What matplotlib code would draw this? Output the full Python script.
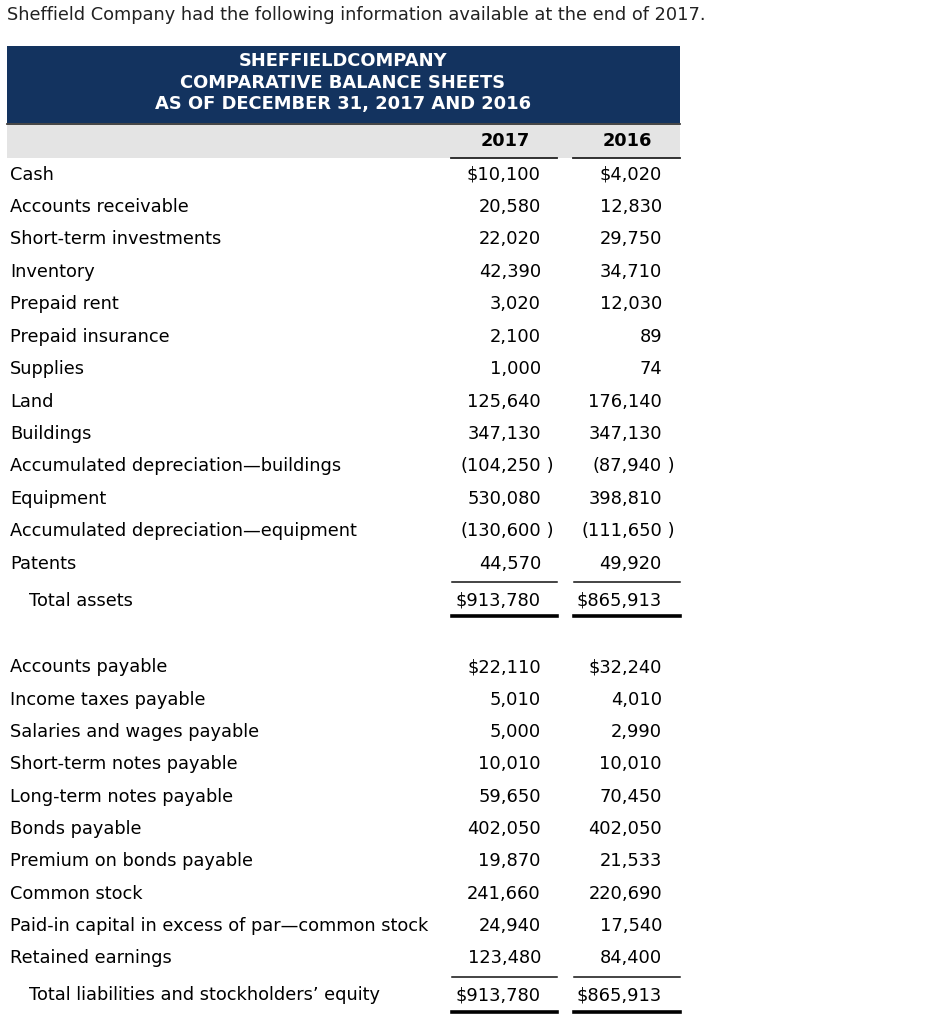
import matplotlib.pyplot as plt

# balance sheet data
asset_labels = ["Cash", "Accounts receivable", "Short-term investments", "Inventory",
                "Prepaid rent", "Prepaid insurance", "Supplies", "Land", "Buildings",
                "Accumulated depreciation\u2014buildings", "Equipment",
                "Accumulated depreciation\u2014equipment", "Patents"]
assets_2017 = [10100, 20580, 22020, 42390, 3020, 2100, 1000, 125640, 347130,
               -104250, 530080, -130600, 44570]
assets_2016 = [4020, 12830, 29750, 34710, 12030, 89, 74, 176140, 347130,
               -87940, 398810, -111650, 49920]
total_assets = [913780, 865913]

liab_labels = ["Accounts payable", "Income taxes payable", "Salaries and wages payable",
               "Short-term notes payable", "Long-term notes payable", "Bonds payable",
               "Premium on bonds payable", "Common stock",
               "Paid-in capital in excess of par\u2014common stock", "Retained earnings"]
liab_2017 = [22110, 5010, 5000, 10010, 59650, 402050, 19870, 241660, 24940, 123480]
liab_2016 = [32240, 4010, 2990, 10010, 70450, 402050, 21533, 220690, 17540, 84400]
total_liab = [913780, 865913]

years = ["2017", "2016"]
header_lines = ["SHEFFIELDCOMPANY", "COMPARATIVE BALANCE SHEETS",
                "AS OF DECEMBER 31, 2017 AND 2016"]
intro = "Sheffield Company had the following information available at the end of 2017."

W, H = 950, 1024
fig = plt.figure(figsize=(W / 100, H / 100), dpi=100)
ax = fig.add_axes([0, 0, 1, 1])
ax.set_xlim(0, W)
ax.set_ylim(H, 0)
ax.axis("off")

FS = 12.8
NFS = 12.9
col_right = [541, 662]
line_spans = [(452, 557), (574, 680)]

ax.text(7, 14.5, intro, fontsize=12.8, va="center", ha="left", color="#222222")

# navy header
ax.add_patch(plt.Rectangle((7, 46), 673, 77, color="#13335F", lw=0))
for i, s in enumerate(header_lines):
    ax.text(343, 61.5 + i * 21.5, s, color="white", fontweight="bold", fontsize=12.9,
            ha="center", va="center")
ax.plot([7, 680], [124, 124], color="#222222", lw=1.2)
ax.add_patch(plt.Rectangle((7, 125), 673, 33, color="#E4E4E4", lw=0))
for i, y in enumerate(years):
    cx = [505, 627][i]
    ax.text(cx, 140.5, y, fontweight="bold", fontsize=12.8, ha="center", va="center")
    ax.plot([line_spans[i][0] - 1, line_spans[i][1]], [158, 158], color="#222222", lw=1.3)


def fmt(v, dollar):
    s = f"{abs(v):,}"
    if dollar:
        s = "$" + s
    if v < 0:
        s = "(" + s
    return s


def draw_rows(labels, v17, v16, y0, step):
    for i, lab in enumerate(labels):
        y = y0 + i * step
        ax.text(10, y, lab, fontsize=FS, ha="left", va="center")
        for j, v in enumerate([v17[i], v16[i]]):
            ax.text(col_right[j], y, fmt(v, i == 0), fontsize=NFS, ha="right", va="center")
            if v < 0:
                ax.text(col_right[j], y, " )", fontsize=NFS, ha="left", va="center")
    return y0 + len(labels) * step


def draw_total(label, totals, y, y_top, y_bot):
    ax.text(29, y, label, fontsize=FS, ha="left", va="center")
    for j, v in enumerate(totals):
        x0, x1 = line_spans[j]
        ax.plot([x0, x1], [y_top, y_top], color="#111111", lw=1.1)
        ax.plot([x0, x1], [y_bot, y_bot], color="#000000", lw=2.6)
        ax.text(col_right[j], y, fmt(v, True), fontsize=NFS, ha="right", va="center")


draw_rows(asset_labels, assets_2017, assets_2016, 174.5, 32.43)
draw_total("Total assets", total_assets, 600.5, 582, 616)
draw_rows(liab_labels, liab_2017, liab_2016, 667.5, 32.33)
draw_total("Total liabilities and stockholders\u2019 equity", total_liab, 995.5, 977, 1012)

fig.savefig("out.png", dpi=100)
